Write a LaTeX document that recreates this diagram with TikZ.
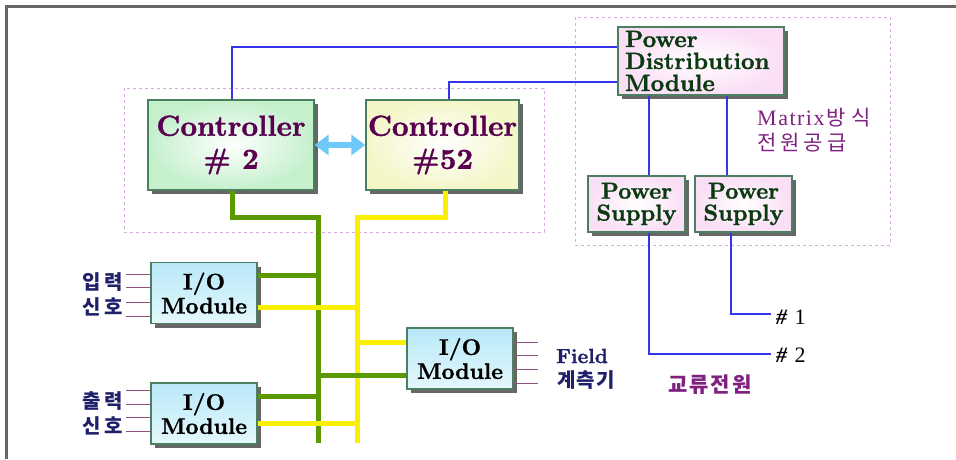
\documentclass[tikz,border=0pt]{standalone}
\usepackage{fontspec}
\newfontfamily\kr{Noto Sans CJK KR}
\newfontfamily\lser{Liberation Serif}
\newfontfamily\heavy{lmroman10-bold.otf}[FakeBold=1.2]
\newcommand\gapx[1]{\hspace{#1pt}}
\usetikzlibrary{arrows.meta,shadows,calc}
\definecolor{frameC}{HTML}{666666}
\definecolor{dashC}{HTML}{D8A8E0}
\definecolor{boxB}{HTML}{4A8060}
\definecolor{ctrlT}{HTML}{5A0050}
\definecolor{pdmT}{HTML}{0A3A10}
\definecolor{blueL}{HTML}{3535F0}
\definecolor{greenL}{HTML}{5A9A00}
\definecolor{yellowL}{HTML}{F8F000}
\definecolor{arrowC}{HTML}{70C8F8}
\definecolor{sigC}{HTML}{905080}
\definecolor{navyT}{HTML}{20206A}
\definecolor{purpT}{HTML}{802080}
\begin{document}
\begin{tikzpicture}[x=1pt,y=-1pt,
  boxbase/.style={draw=boxB,line width=1.3pt,align=center,inner sep=0pt,
    drop shadow={shadow xshift=4pt,shadow yshift=-4pt,fill=black!60,opacity=1}},
  ctrlbox/.style={boxbase,minimum height=90pt,text=ctrlT,
    font=\heavy\fontsize{29}{33}\selectfont},
  pdmbox/.style={boxbase,shading=radial,inner color=white,outer color={rgb,255:red,250;green,222;blue,246},
    text=pdmT},
  iobox/.style={boxbase,minimum width=106pt,minimum height=61pt,top color={rgb,255:red,184;green,232;blue,248},
    bottom color={rgb,255:red,228;green,248;blue,252},font=\heavy\fontsize{22.5}{24}\selectfont},
  dashbox/.style={draw=dashC,line width=0.8pt,dash pattern=on 3pt off 3pt},
  bluel/.style={draw=blueL,line width=2.8pt},
  greenl/.style={draw=greenL,line width=5pt},
  yellowl/.style={draw=yellowL,line width=5pt},
  sigl/.style={draw=sigC,line width=0.8pt},
  krlab/.style={font=\kr\fontsize{20}{24}\selectfont\bfseries,text=navyT,inner sep=0pt,align=center}
]
\useasboundingbox (0,0) rectangle (956,459);
% frame
\draw[frameC,line width=3pt] (6,459) -- (6,6) -- (956,6);
% dashed groups
\draw[dashbox] (124,88) rectangle (544,232);
\draw[dashbox] (575,17) rectangle (890,245);

% nodes
\node[ctrlbox,minimum width=166pt,shading=radial,inner color=white,outer color={rgb,255:red,196;green,240;blue,204}] (c2) at (231,145) {Controller\\\# 2};
\node[ctrlbox,minimum width=153pt,shading=radial,inner color=white,outer color={rgb,255:red,244;green,246;blue,200}] (c52) at (442.5,145) {Controller\\\#52};
\node[pdmbox,minimum width=166pt,minimum height=68pt,text width=152pt,align=left,
  font=\heavy\fontsize{23.5}{22}\selectfont] (pdm) at (701,61) {Power\\Distribution\\Module};
\node[pdmbox,minimum width=97pt,minimum height=56pt,font=\heavy\fontsize{23}{22}\selectfont] (psl) at (636.5,204) {Power\\Supply};
\node[pdmbox,minimum width=97pt,minimum height=56pt,font=\heavy\fontsize{23}{22}\selectfont] (psr) at (743.5,204) {Power\\Supply};
\node[iobox] (iotl) at (204,293) {I/O\\Module};
\node[iobox] (iobl) at (204,413.5) {I/O\\Module};
\node[iobox] (iom) at (460,358.5) {I/O\\Module};

% coordinates
\coordinate (gtop) at (318,217);
\coordinate (gbot) at (318,443);
\coordinate (ytop) at (357,217);
\coordinate (ybot) at (357,443);
\coordinate (h1) at (771,314);
\coordinate (h2) at (771,354);

% blue power lines
\draw[bluel] ([yshift=14pt]pdm.west) -| ([xshift=1pt]c2.north);
\draw[bluel] ([yshift=-21pt]pdm.west) -| ([xshift=6.5pt]c52.north);
\draw[bluel] ([xshift=12.5pt]psl.north) -- ([xshift=12.5pt]psl.north |- pdm.south);
\draw[bluel] ([xshift=-16.5pt]psr.north) -- ([xshift=-16.5pt]psr.north |- pdm.south);
\draw[bluel] ([xshift=12.5pt]psl.south) |- (h2);
\draw[bluel] ([xshift=-12.5pt]psr.south) |- (h1);

% buses
\draw[greenl] ([xshift=1pt]c2.south) |- (gtop) -- (gbot);
\draw[yellowl] ([xshift=2.5pt]c52.south) |- (ytop) -- (ybot);
\draw[greenl] ([yshift=18pt]iotl.east) -- ([yshift=18pt]iotl.east -| gtop);
\draw[yellowl] ([yshift=-14pt]iotl.east) -- ([yshift=-14pt]iotl.east -| ytop);
\draw[greenl] ([yshift=17.5pt]iobl.east) -- ([yshift=17.5pt]iobl.east -| gtop);
\draw[yellowl] ([yshift=-9.5pt]iobl.east) -- ([yshift=-9.5pt]iobl.east -| ytop);
\draw[yellowl] ([yshift=16.5pt]iom.west) -- ([yshift=16.5pt]iom.west -| ytop);
\draw[greenl] ([yshift=-16.5pt]iom.west) -- ([yshift=-16.5pt]iom.west -| gtop);

% controller link
\draw[arrowC,line width=6pt,{Triangle[length=14pt,width=20pt]}-{Triangle[length=14pt,width=20pt]}] (c2.east) -- (c52.west);

% signal lines
\foreach \s in {19,6,-9,-23} \draw[sigl] ([yshift=\s pt]iotl.west) -- ++(-24,0);
\foreach \s in {23.5,9.5,-3.5,-17.5} \draw[sigl] ([yshift=\s pt]iobl.west) -- ++(-24,0);
\foreach \s in {16.5,3.5,-10.5,-24.5} \draw[sigl] ([yshift=\s pt]iom.east) -- ++(24,0);

% labels
\node[krlab,anchor=east] (lin) at (123,294) {입\gapx{4}력\\[1pt]신\gapx{4}호};
\node[krlab,anchor=east] (lout) at (123,413) {출\gapx{4}력\\[1pt]신\gapx{4}호};
\node[inner sep=0pt,text=navyT,font=\heavy\fontsize{20.5}{24}\selectfont] (field) at (582,356) {Field};
\node[krlab] (gye) at (586,380) {계\gapx{1}측\gapx{1}기};
\node[inner sep=0pt,anchor=west,font=\lser\fontsize{22}{22}\selectfont] (n1) at (776,317) {\textbf{\textit{\#}}\gapx{7}1};
\node[inner sep=0pt,anchor=west,font=\lser\fontsize{22}{22}\selectfont] (n2) at (776,355) {\textbf{\textit{\#}}\gapx{7}2};
\node[inner sep=0pt,text=purpT,font=\kr\fontsize{21}{24}\selectfont\bfseries] (ac) at (710,385) {교\gapx{2}류\gapx{2}전\gapx{2}원};
\node[inner sep=0pt,anchor=west,text=purpT,align=left,font=\lser\fontsize{22}{25}\selectfont] (mx) at (757,130)
  {M\gapx{1.5}a\gapx{1.5}t\gapx{1.5}r\gapx{1.5}i\gapx{1.5}x\gapx{2}{\kr\fontsize{21}{25}\selectfont 방\gapx{6}식}\\{\kr\fontsize{21}{25}\selectfont 전\gapx{4}원\gapx{4}공\gapx{4}급}};
\end{tikzpicture}
\end{document}
